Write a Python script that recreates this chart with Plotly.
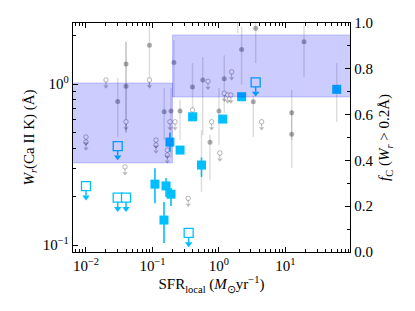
import numpy as np
import plotly.graph_objects as go

# ---------------- data ----------------
# Ca II K detections (this work)
sfr_det = [0.183, 0.26, 0.546, 0.109, 0.16, 0.19, 0.149, 0.402, 1.14, 2.19, 58.9]
wr_det = [0.436, 0.389, 0.314, 0.239, 0.233, 0.207, 0.143, 0.626, 0.606, 0.834, 0.927]
wr_det_lo = [0.38, 0.37, 0.265, 0.182, 0.199, 0.175, 0.103, 0.60, 0.585, 0.81, 0.90]
wr_det_hi = [0.50, 0.41, 0.35, 0.30, 0.261, 0.226, 0.185, 0.65, 0.63, 0.86, 0.955]

# Ca II K upper limits (this work)
sfr_lim = [0.030, 0.010, 0.030, 0.040, 0.35, 3.56]
wr_lim = [0.412, 0.232, 0.197, 0.197, 0.119, 1.025]

# literature detections (grey)
sfr_lit = [0.040, 0.040, 0.030, 0.090, 0.150, 0.21, 0.19, 0.26, 0.40, 0.57, 2.19, 3.56,
           19.0, 1.20, 1.0, 3.28, 12.4, 12.4, 0.733, 58.9, 0.546, 1.91]
wr_lit = [1.33, 0.97, 0.78, 1.74, 0.673, 1.36, 0.68, 0.68, 0.96, 1.06, 1.64, 2.22,
          1.83, 1.08, 0.68, 0.776, 0.663, 0.487, 0.435, 0.918, 0.314, 2.8]
wr_lit_lo = [0.50, 0.50, 0.47, 0.96, 0.449, 0.83, 0.347, 0.449, 0.69, 0.48, 0.99, 1.35,
             1.11, 0.66, 0.418, 0.469, 0.449, 0.30, 0.253, 0.58, 0.213, 2.07]
wr_lit_hi = [1.83, 1.83, 1.09, 2.32, 0.944, 1.88, 0.944, 0.80, 1.35, 1.47, 2.27, 2.6,
             2.32, 1.51, 0.944, 0.85, 0.918, 0.69, 0.482, 1.35, 0.518, 3.2]

# literature upper limits (grey)
sfr_lit_lim = [0.020, 0.090, 0.040, 0.010, 0.010, 0.183, 0.218, 0.40, 0.684, 1.55, 1.20,
               1.35, 1.51, 4.38, 0.776, 1.03, 0.0386, 0.113, 0.113, 0.167, 0.167, 0.345]
wr_lit_lim = [1.06, 1.06, 0.583, 0.469, 0.436, 0.583, 0.583, 0.69, 1.04, 1.19, 0.875,
              0.855, 0.855, 0.583, 0.583, 0.373, 0.306, 0.449, 0.418, 0.389, 0.362, 0.195]

# covering fraction f_C(W_r > 0.2 A) in SFR bins
fc_bin_edges = [0.005, 0.2, 120.0]
fc_lo = [0.389, 0.677]
fc_hi = [0.738, 0.948]

# ---------------- style ----------------
FONT = "Liberation Serif"
SKY = "#00BFFF"
GREY_PT = "rgba(0,0,0,0.32)"
GREY_BAR = "rgba(0,0,0,0.13)"
GREY_LIM = "rgba(0,0,0,0.28)"
# the page body adds an 8px offset, so the figure is 8px smaller than the window
W, H = 407, 303
M = dict(l=65, r=65, t=15, b=59)
XR = [-2.195, 1.97]
YR = [-1.043, 0.379]
plot_h = H - M["t"] - M["b"]
dec_px = plot_h / (YR[1] - YR[0])


def shift(vals, px):
    """move values downward by px pixels on the log y-axis"""
    return [v * 10 ** (-px / dec_px) for v in vals]


fig = go.Figure()

# grey literature detections
fig.add_trace(go.Scatter(
    x=sfr_lit, y=wr_lit, mode="markers",
    marker=dict(size=5, color=GREY_PT, line=dict(width=0)),
    error_y=dict(type="data", symmetric=False,
                 array=[h - v for h, v in zip(wr_lit_hi, wr_lit)],
                 arrayminus=[v - l for v, l in zip(wr_lit, wr_lit_lo)],
                 color=GREY_BAR, thickness=1.5, width=0),
    showlegend=False, hoverinfo="skip"))

# grey literature upper limits: stem + head + circle
g_tip = shift(wr_lit_lim, 5)
fig.add_trace(go.Scatter(
    x=sfr_lit_lim, y=wr_lit_lim, mode="markers",
    marker=dict(size=4.5, color="white", line=dict(width=1, color=GREY_LIM)),
    error_y=dict(type="data", symmetric=False, array=[0] * len(wr_lit_lim),
                 arrayminus=[v - t for v, t in zip(wr_lit_lim, g_tip)],
                 color=GREY_LIM, thickness=1, width=0),
    showlegend=False, hoverinfo="skip"))
fig.add_trace(go.Scatter(
    x=sfr_lit_lim, y=shift(wr_lit_lim, 6.5), mode="markers",
    marker=dict(symbol="triangle-down", size=4.5, color=GREY_LIM, line=dict(width=0)),
    showlegend=False, hoverinfo="skip"))

# blue detections
fig.add_trace(go.Scatter(
    x=sfr_det, y=wr_det, mode="markers",
    marker=dict(symbol="square", size=9, color=SKY, line=dict(width=0)),
    error_y=dict(type="data", symmetric=False,
                 array=[h - v for h, v in zip(wr_det_hi, wr_det)],
                 arrayminus=[v - l for v, l in zip(wr_det, wr_det_lo)],
                 color=SKY, thickness=1.6, width=0),
    showlegend=False, hoverinfo="skip"))

# blue upper limits: open squares with down arrows
b_tip = shift(wr_lim, 9.5)
fig.add_trace(go.Scatter(
    x=sfr_lim, y=wr_lim, mode="markers",
    marker=dict(symbol="square", size=9, color="white", line=dict(width=1.3, color=SKY)),
    error_y=dict(type="data", symmetric=False, array=[0] * len(wr_lim),
                 arrayminus=[v - t for v, t in zip(wr_lim, b_tip)],
                 color=SKY, thickness=1.5, width=0),
    showlegend=False, hoverinfo="skip"))
fig.add_trace(go.Scatter(
    x=sfr_lim, y=shift(wr_lim, 11), mode="markers",
    marker=dict(symbol="triangle-down", size=6.5, color=SKY, line=dict(width=0)),
    showlegend=False, hoverinfo="skip"))

# covering fraction bands on the right axis
for i in range(len(fc_lo)):
    x0, x1 = fc_bin_edges[i], fc_bin_edges[i + 1]
    fig.add_trace(go.Scatter(
        x=[x0, x1, x1, x0, x0], y=[fc_lo[i], fc_lo[i], fc_hi[i], fc_hi[i], fc_lo[i]],
        yaxis="y2", mode="lines", fill="toself",
        fillcolor="rgba(0,0,255,0.2)", line=dict(color="rgba(0,0,255,0.18)", width=1),
        showlegend=False, hoverinfo="skip"))

tick_font = dict(family=FONT, size=15, color="black")
fig.update_layout(
    template="none",
    width=W, height=H, margin=M,
    paper_bgcolor="white", plot_bgcolor="white",
    font=dict(family=FONT, size=15, color="black"),
    showlegend=False,
    xaxis=dict(
        type="log", range=XR, showgrid=False, zeroline=False, automargin=False,
        showline=True, linecolor="black", linewidth=1.4, mirror="ticks",
        ticks="inside", ticklen=5, tickwidth=1.1, tickcolor="black",
        tickmode="array", tickvals=[0.01, 0.1, 1, 10],
        ticktext=["10<sup>−2</sup>", "10<sup>−1</sup>", "10<sup>0</sup>", "10<sup>1</sup>"],
        tickfont=tick_font,
        minor=dict(ticks="inside", ticklen=2.5, tickwidth=0.9, tickcolor="black", dtick="D1", showgrid=False),
        title=dict(text="SFR<sub>local</sub> (<i>M</i><sub>⊙</sub>yr<sup>−1</sup>)",
                   font=dict(family=FONT, size=15), standoff=0),
    ),
    yaxis=dict(
        type="log", range=YR, showgrid=False, zeroline=False, automargin=False,
        showline=True, linecolor="black", linewidth=1.4,
        ticks="inside", ticklen=5, tickwidth=1.1, tickcolor="black",
        tickmode="array", tickvals=[0.1, 1],
        ticktext=["10<sup>−1</sup>", "10<sup>0</sup>"],
        tickfont=tick_font,
        minor=dict(ticks="inside", ticklen=2.5, tickwidth=0.9, tickcolor="black", dtick="D1", showgrid=False),
        title=dict(text="<i>W<sub>r</sub></i>(Ca II K) (Å)", font=dict(family=FONT, size=15), standoff=4),
    ),
    yaxis2=dict(
        overlaying="y", side="right", range=[0, 1], showgrid=False, zeroline=False, automargin=False,
        showline=True, linecolor="black", linewidth=1.4,
        ticks="inside", ticklen=5, tickwidth=1.1, tickcolor="black",
        tickmode="linear", tick0=0, dtick=0.2, tickformat=".1f",
        tickfont=tick_font,
        minor=dict(ticks="inside", ticklen=2.5, tickwidth=0.9, tickcolor="black", dtick=0.1, showgrid=False),
        title=dict(text="<i>f</i><sub>C</sub> (<i>W<sub>r</sub></i> > 0.2Å)", font=dict(family=FONT, size=15), standoff=6),
    ),
)

fig.write_html("out.html")
